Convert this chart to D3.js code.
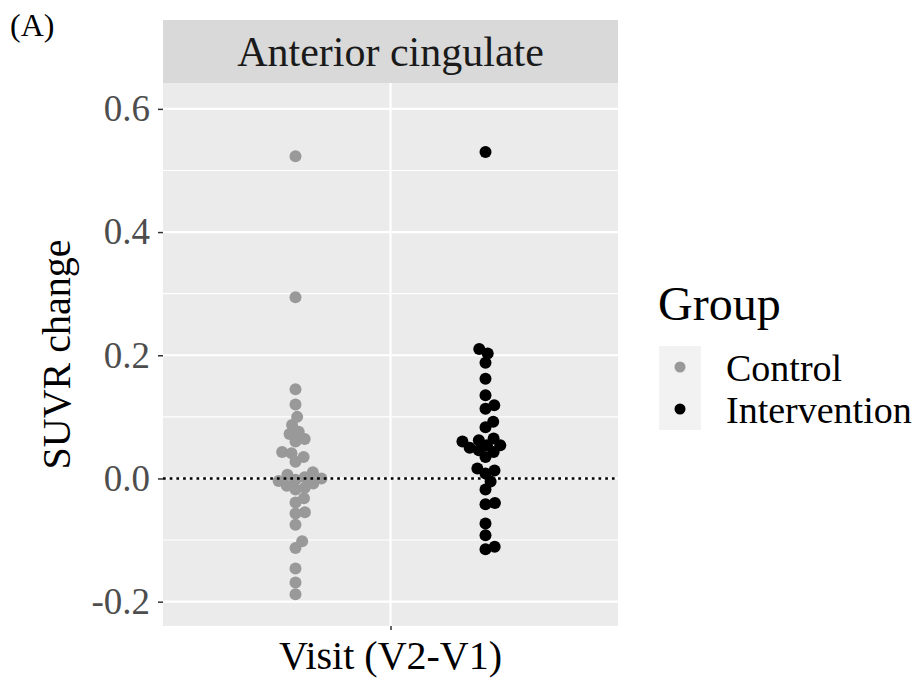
<!DOCTYPE html>
<html>
<head>
<meta charset="utf-8">
<script src="https://cdn.jsdelivr.net/npm/d3@7"></script>
<style>
  body { margin: 0; background: #fff; }
  text { font-family: "Liberation Serif", "Times New Roman", serif; }
</style>
</head>
<body>
<div class="plot"></div>
<script>
// data
const groups = ['Control', 'Intervention']
const groupColors = ['#999999', '#000000']
const visit = ['V2-V1']
const control = [0.523, 0.294, 0.145, 0.120, 0.100, 0.087, 0.076, 0.072, 0.064, 0.060,
  0.043, 0.041, 0.035, 0.027, 0.010, 0.006, 0.002, 0.000, -0.002, -0.004,
  -0.008, -0.012, -0.015, -0.018, -0.032, -0.039, -0.055, -0.057, -0.075, -0.102,
  -0.113, -0.146, -0.169, -0.188]
const intervention = [0.530, 0.210, 0.203, 0.188, 0.162, 0.135, 0.119, 0.113, 0.092, 0.083,
  0.065, 0.062, 0.060, 0.054, 0.054, 0.050, 0.046, 0.043, 0.035, 0.016,
  0.013, 0.008, -0.005, -0.018, -0.040, -0.042, -0.073, -0.092, -0.111, -0.115]
const yTicks = [-0.2, 0.0, 0.2, 0.4, 0.6]
const yMinor = [-0.1, 0.1, 0.3, 0.5]

const width = 921
const height = 680
const panel = {left: 163, right: 618, top: 83, bottom: 626}

const svg = d3.select('.plot')
  .append('svg')
  .attr('width', width)
  .attr('height', height)

const y = d3.scaleLinear()
  .domain([-0.2395, 0.642])
  .range([panel.bottom, panel.top])

const x = d3.scalePoint()
  .domain(visit)
  .range([panel.left, panel.right])
  .padding(0.5)

const xGroup = d3.scaleBand()
  .domain(groups)
  .range([x(visit[0]) - 190, x(visit[0]) + 190])

// panel background
svg.append('rect')
  .attr('x', panel.left)
  .attr('y', panel.top)
  .attr('width', panel.right - panel.left)
  .attr('height', panel.bottom - panel.top)
  .attr('fill', '#ebebeb')

// strip
svg.append('rect')
  .attr('x', panel.left)
  .attr('y', 20)
  .attr('width', panel.right - panel.left)
  .attr('height', panel.top - 20)
  .attr('fill', '#d9d9d9')
svg.append('text')
  .attr('x', (panel.left + panel.right) / 2)
  .attr('y', 66)
  .attr('text-anchor', 'middle')
  .attr('font-size', 42)
  .attr('fill', '#1a1a1a')
  .text('Anterior cingulate')

// grid
svg.selectAll('.minor')
  .data(yMinor)
  .enter()
  .append('line')
  .attr('x1', panel.left)
  .attr('x2', panel.right)
  .attr('y1', d => y(d))
  .attr('y2', d => y(d))
  .attr('stroke', '#fff')
  .attr('stroke-width', 1.1)
svg.selectAll('.major')
  .data(yTicks)
  .enter()
  .append('line')
  .attr('x1', panel.left)
  .attr('x2', panel.right)
  .attr('y1', d => y(d))
  .attr('y2', d => y(d))
  .attr('stroke', '#fff')
  .attr('stroke-width', 2.2)
svg.append('line')
  .attr('x1', x(visit[0]))
  .attr('x2', x(visit[0]))
  .attr('y1', panel.top)
  .attr('y2', panel.bottom)
  .attr('stroke', '#fff')
  .attr('stroke-width', 2.2)

// y axis
const yAxis = d3.axisLeft(y)
  .tickValues(yTicks)
  .tickSize(5)
  .tickPadding(8)
  .tickFormat(d3.format('.1f'))
const ya = svg.append('g')
  .attr('transform', `translate(${panel.left},0)`)
  .call(yAxis)
ya.select('.domain').remove()
ya.selectAll('line').attr('stroke', '#333').attr('stroke-width', 1.5)
ya.selectAll('text')
  .attr('font-size', 37)
  .attr('fill', '#4d4d4d')
  .style('font-family', '"Liberation Serif", serif')
  .text(d => d < 0 ? '-' + Math.abs(d).toFixed(1) : d.toFixed(1))

// x axis tick only
const xa = svg.append('g')
  .attr('transform', `translate(0,${panel.bottom})`)
  .call(d3.axisBottom(x).tickSize(4).tickFormat(''))
xa.select('.domain').remove()
xa.selectAll('line').attr('stroke', '#333').attr('stroke-width', 1.5)

// beeswarm offsets
function swarm(vals, sep) {
  const pts = vals.map(v => ({v: v, py: y(v)})).sort((a, b) => a.v - b.v)
  const placed = []
  pts.forEach(p => {
    const cands = [0]
    placed.forEach(q => {
      const dy = Math.abs(q.py - p.py)
      if (dy < sep) {
        const dx = Math.sqrt(sep * sep - dy * dy)
        cands.push(q.dx + dx, q.dx - dx)
      }
    })
    cands.sort((a, b) => Math.abs(a) - Math.abs(b))
    p.dx = cands.find(c => placed.every(q => (q.dx - c) ** 2 + (q.py - p.py) ** 2 >= sep * sep - 0.01))
    placed.push(p)
  })
  return pts
}

const series = [control, intervention]
series.forEach((vals, i) => {
  const cx = xGroup(groups[i]) + xGroup.bandwidth() / 2
  svg.selectAll('.pt' + i)
    .data(swarm(vals, 9.5))
    .enter()
    .append('circle')
    .attr('cx', d => cx + d.dx)
    .attr('cy', d => d.py)
    .attr('r', 6)
    .attr('fill', groupColors[i])
})

// zero line
svg.append('line')
  .attr('x1', panel.left)
  .attr('x2', panel.right)
  .attr('y1', y(0))
  .attr('y2', y(0))
  .attr('stroke', '#000')
  .attr('stroke-width', 2.6)
  .attr('stroke-dasharray', '2.7,4')

// axis titles
svg.append('text')
  .attr('x', (panel.left + panel.right) / 2)
  .attr('y', 669)
  .attr('text-anchor', 'middle')
  .attr('font-size', 40)
  .text('Visit (V2-V1)')
svg.append('text')
  .attr('transform', `translate(70,${(panel.top + panel.bottom) / 2}) rotate(-90)`)
  .attr('text-anchor', 'middle')
  .attr('font-size', 40)
  .text('SUVR change')

// panel tag
svg.append('text')
  .attr('x', 10)
  .attr('y', 36)
  .attr('font-size', 32)
  .text('(A)')

// legend
svg.append('text')
  .attr('x', 658)
  .attr('y', 320)
  .attr('font-size', 48)
  .text('Group')
const legend = svg.selectAll('.legend')
  .data(groups)
  .enter()
  .append('g')
  .attr('transform', (d, i) => `translate(659,${346 + i * 42})`)
legend.append('rect')
  .attr('width', 42)
  .attr('height', 42)
  .attr('fill', '#f2f2f2')
legend.append('circle')
  .attr('cx', 21)
  .attr('cy', 21)
  .attr('r', 5.5)
  .attr('fill', (d, i) => groupColors[i])
legend.append('text')
  .attr('x', 67)
  .attr('y', 35)
  .attr('font-size', 38)
  .text(d => d)
</script>
</body>
</html>
